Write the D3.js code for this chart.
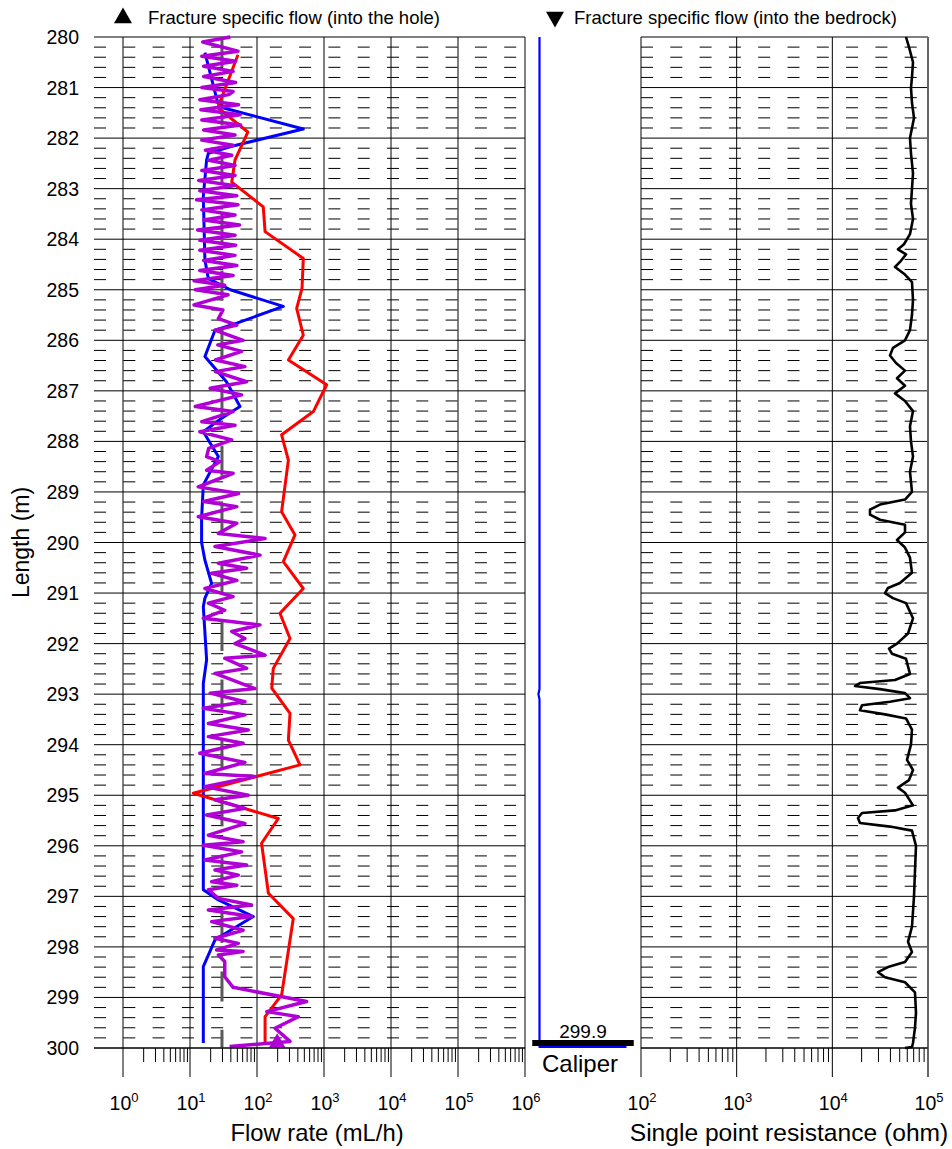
<!DOCTYPE html>
<html><head><meta charset="utf-8">
<script src="https://cdn.jsdelivr.net/npm/d3@7"></script>
<style>body{margin:0;background:#fff}svg{display:block}text{font-family:Arial,"Liberation Sans",sans-serif;fill:#000}</style>
</head><body><svg id="c" width="952" height="1149"></svg>
<script>
// ---------- data ----------
const depthTicks = [280,281,282,283,284,285,286,287,288,289,290,291,292,293,294,295,296,297,298,299,300];
const flowTickExp = [0,1,2,3,4,5,6];
const resTickExp = [2,3,4,5];
const lowerLimit = 30; // mL/h
const bottomDepth = 299.9;

const blueDepth = [280.31,281.30,281.41,281.82,282.17,282.30,282.43,283.16,284.41,284.78,285.0,285.33,285.66,285.80,286.32,286.82,287.31,287.54,287.81,288.30,288.86,289.52,290.00,290.35,290.81,291.10,291.27,292.32,292.79,295.03,296.87,297.07,297.40,297.86,298.39,299.90];
const blueFlow  = [16.7,25.9,33,491,39.5,18.8,17.7,15.8,16.7,18.8,40,247,50,23.6,16.7,35,55.7,29.7,15.8,26.5,15.8,14.9,14.9,16.7,21,16.7,15.8,17.7,15.8,15.8,15.8,26.5,88,23.6,15.8,15.8];

const redDepth = [280.35,281.40,281.88,282.43,282.87,283.36,283.85,284.38,284.97,285.37,285.90,286.39,286.88,287.41,287.87,288.37,289.39,289.85,290.38,290.91,291.40,291.90,292.49,292.88,293.38,293.91,294.40,294.96,295.46,295.95,296.94,297.44,298.95,299.38,299.91];
const redFlow  = [52,26,73,47,42,124,132,491,470,391,491,294,1096,693,233,294,233,369,247,491,220,311,175,166,311,294,438,11.2,208,117,148,348,233,132,132];

const purpleDepth = [280.00,280.10,280.28,280.38,280.48,280.58,280.68,280.78,280.90,281.00,281.08,281.14,281.24,281.34,281.44,281.54,281.64,281.74,281.84,281.94,282.04,282.14,282.24,282.34,282.44,282.54,282.64,282.74,282.84,282.94,283.04,283.14,283.22,283.32,283.42,283.52,283.62,283.72,283.82,283.92,284.02,284.12,284.22,284.32,284.42,284.52,284.62,284.72,284.82,284.91,
285.0,285.1,285.3,285.4,285.57,285.70,285.80,286.0,286.09,286.22,286.39,286.52,286.62,286.82,286.95,287.08,287.31,287.41,287.61,287.68,287.81,287.97,288.14,288.30,288.40,288.57,288.63,288.90,289.03,289.19,289.29,289.49,289.62,289.82,289.92,
290.08,290.25,290.41,290.51,290.61,290.75,290.91,291.07,291.20,291.34,291.50,291.63,291.76,291.90,292.00,292.23,292.29,292.49,292.59,292.89,292.98,293.15,293.28,293.41,293.58,293.71,293.84,293.97,294.17,294.35,294.57,294.63,294.83,295.0,
295.09,295.26,295.39,295.56,295.79,295.92,295.99,296.12,296.28,296.38,296.48,296.58,296.71,296.78,296.87,297.04,297.17,297.27,297.40,297.50,297.67,297.83,297.93,298.06,298.09,298.16,298.29,298.59,298.80,299.08,299.28,299.38,299.61,299.87,299.97];
const purpleFlow = [40,15.5,52,15,48,16,44,16,48,15,44,38,14,53,14.5,56,15,57,16,47,15,44,17,42,19,47,15,47,13.5,47,14,50,12.5,52,15,47,16,55,13,47,14,48,14,47,16,50,14,44,11.5,33,
12,37,11.5,31,26.5,50,23.6,62,26,59,24,66,24,70,20,59,12,44,15,47,14,42,19,17.7,28,17.7,44,13.3,53,16,50,13.3,50,26.5,132,
23.6,111,26.5,70,21,50,16.7,44,18.8,33,15.8,111,42,66,47,132,33,70,23.6,93,20,66,15.8,66,18.8,74,18.8,62,14,66,16.7,93,16.7,74,
23.6,66,17.7,66,18.8,62,15.8,59,16.7,70,23.6,52.6,21,50,18.8,26.5,83,18.8,83,21,62,23.6,52.6,25,62,26.5,33,33,44,551,140,414,186,311,39];
const markerDepth = [299.9];
const markerFlow = [200];

const caliperDepth = [280.0,292.9,293.0,293.1,299.98,299.98];
const caliperMM = [76,76,75.85,76,76,88];
const caliperBar = [75,89];

const resDepth = [280.0,280.2,280.5,280.8,281.0,281.3,281.6,282.0,282.3,282.7,283.0,283.3,283.6,283.9,284.1,284.2,284.3,284.45,284.55,284.7,284.85,285.2,285.5,285.8,286.0,286.15,286.3,286.45,286.6,286.75,286.9,287.05,287.2,287.4,287.7,288.0,288.3,288.6,289.0,289.15,289.25,289.35,289.45,289.55,289.65,289.8,289.95,290.1,290.3,290.6,290.8,290.9,291.0,291.1,291.2,291.5,291.8,292.0,292.1,292.2,292.3,292.6,292.72,292.78,292.84,292.9,292.98,293.08,293.15,293.22,293.32,293.4,293.48,293.7,294.0,294.3,294.5,294.7,294.85,294.95,295.2,295.3,295.35,295.45,295.55,295.62,295.7,296.0,296.5,297.0,297.3,297.6,297.9,298.1,298.3,298.4,298.5,298.6,298.7,298.9,299.3,299.6,299.9,299.98,300.0];
const resOhm = [58900,63300,69700,68000,66400,68000,71400,64800,66400,69700,68000,66400,69700,64800,56100,48570,58900,50950,45190,57500,68000,69700,68000,64800,57500,43050,40060,46300,57500,47420,57500,45190,57500,69700,64800,66400,69700,64800,68000,57500,31500,24750,24750,31500,57500,57500,47420,57500,64800,68000,50950,38170,35510,43050,58900,69700,61800,47420,39100,42040,58900,64800,45190,19450,17260,31500,57500,64800,40060,20420,19450,35510,58900,68000,66400,60300,69700,63300,48570,57500,69700,45190,20420,18550,19450,40060,68000,74900,73100,71400,69700,68000,61800,68000,57500,38170,30020,35510,57500,73100,74900,73100,69700,68000,57500];

// ---------- layout ----------
const svg = d3.select("#c");
const y = d3.scaleLinear().domain([280,300]).range([37,1048]);
const xF = d3.scaleLog().domain([1,1e6]).range([123,525]);
const xR = d3.scaleLog().domain([1e2,1e5]).range([641,928]);
const xC = d3.scaleLinear().domain([74,90]).range([525,641]);
const fL = 94, fR = 525, rL = 641, rR = 928;
const yTop = y(280), yBot = y(300);

const g = svg.append("g");

// minor dashed rows
const minorRows = [];
depthTicks.slice(0,-1).forEach(d=>{[0.2,0.4,0.6,0.8].forEach(f=>minorRows.push(d+f));});
[[fL,fR],[rL,rR]].forEach(([a,b])=>{
  g.selectAll(null).data(minorRows).join("line")
    .attr("x1",a).attr("x2",b).attr("y1",d=>y(d)).attr("y2",d=>y(d))
    .attr("stroke","#000").attr("stroke-width",1).attr("stroke-dasharray","12,17.3");
});
// major rows
[[fL,fR],[rL,rR]].forEach(([a,b])=>{
  g.selectAll(null).data(depthTicks).join("line")
    .attr("x1",a).attr("x2",b).attr("y1",d=>y(d)).attr("y2",d=>y(d))
    .attr("stroke","#000").attr("stroke-width",1);
});
// vertical decade lines (extend below to tick length)
g.selectAll(null).data(flowTickExp).join("line")
  .attr("x1",d=>xF(10**d)).attr("x2",d=>xF(10**d)).attr("y1",yTop).attr("y2",yBot+29)
  .attr("stroke","#000").attr("stroke-width",1);
g.selectAll(null).data(resTickExp).join("line")
  .attr("x1",d=>xR(10**d)).attr("x2",d=>xR(10**d)).attr("y1",yTop).attr("y2",yBot+29)
  .attr("stroke",d=>d===5?"#666":"#000").attr("stroke-width",d=>d===5?2:1);

// minor ticks
function minors(exps){const m=[];for(let i=0;i<exps.length-1;i++)for(let k=2;k<10;k++)m.push(k*10**exps[i]);return m;}
g.append("g").attr("transform",`translate(0,${yBot})`)
  .call(d3.axisBottom(xF).tickValues(minors(flowTickExp)).tickSize(14).tickFormat(""))
  .call(s=>s.select(".domain").remove());
g.append("g").attr("transform",`translate(0,${yBot})`)
  .call(d3.axisBottom(xR).tickValues(minors(resTickExp)).tickSize(14).tickFormat(""))
  .call(s=>s.select(".domain").remove());

// tick labels
function expLabels(scale,exps){
  const t = g.selectAll(null).data(exps).join("text")
    .attr("x",d=>scale(10**d)+1).attr("y",1110).attr("text-anchor","middle").style("font-size","19.5px");
  t.append("tspan").text("10");
  t.append("tspan").attr("dy",-8.5).style("font-size","13px").text(d=>d);
}
expLabels(xF,flowTickExp);
expLabels(xR,resTickExp);

// y labels
g.selectAll(null).data(depthTicks).join("text")
  .attr("x",79).attr("y",d=>y(d)).attr("dy","0.36em").attr("text-anchor","end")
  .style("font-size","19.5px").text(d=>d);

// titles
g.append("text").attr("x",317).attr("y",1141).attr("text-anchor","middle").style("font-size","23.8px").text("Flow rate (mL/h)");
g.append("text").attr("x",789).attr("y",1141).attr("text-anchor","middle").style("font-size","24.6px").text("Single point resistance (ohm)");
g.append("text").attr("transform",`translate(29,${(yTop+yBot)/2}) rotate(-90)`).attr("text-anchor","middle").style("font-size","23px").text("Length (m)");
g.append("text").attr("x",580).attr("y",1072).attr("text-anchor","middle").style("font-size","24px").text("Caliper");

// legend
g.append("path").attr("d",d3.symbol(d3.symbolTriangle,140)()).attr("transform","translate(123,18)").attr("fill","#000");
g.append("text").attr("x",148).attr("y",24).style("font-size","18.5px").text("Fracture specific flow (into the hole)");
g.append("path").attr("d",d3.symbol(d3.symbolTriangle,140)()).attr("transform","translate(555,17) rotate(180)").attr("fill","#000");
g.append("text").attr("x",574).attr("y",24).style("font-size","18.5px").text("Fracture specific flow (into the bedrock)");

// lower limit dashed
g.append("line").attr("x1",xF(lowerLimit)).attr("x2",xF(lowerLimit)).attr("y1",yTop).attr("y2",yBot)
  .attr("stroke","#5a5a5a").attr("stroke-width",3).attr("stroke-dasharray","30,28.4");

// series
function series(depths,vals,scale,color,w){
  const data = depths.map((d,i)=>[d,vals[i]]);
  g.append("path").datum(data)
    .attr("d",d3.line().x(d=>scale(d[1])).y(d=>y(d[0])))
    .attr("fill","none").attr("stroke",color).attr("stroke-width",w).attr("stroke-linejoin","round");
}
series(blueDepth,blueFlow,xF,"#0000ff",3);
series(redDepth,redFlow,xF,"#ff0000",3);
series(purpleDepth,purpleFlow,xF,"#b000d6",3.5);
// marker
g.selectAll(null).data(markerDepth).join("path")
  .attr("d",d3.symbol(d3.symbolTriangle,120)())
  .attr("transform",(d,i)=>`translate(${xF(markerFlow[i])},${y(d)})`).attr("fill","#b000d6");

// caliper
series(caliperDepth,caliperMM,xC,"#0000ff",2.2);
g.append("line").attr("x1",xC(caliperBar[0])).attr("x2",xC(caliperBar[1])).attr("y1",y(bottomDepth)).attr("y2",y(bottomDepth))
  .attr("stroke","#000").attr("stroke-width",6);
g.append("text").attr("x",583).attr("y",y(bottomDepth)-5).attr("text-anchor","middle").style("font-size","19px").text(bottomDepth);

// resistance
series(resDepth,resOhm,xR,"#000",2.6);

// bottom axis lines
[[fL,fR],[rL,rR]].forEach(([a,b])=>{
  g.append("line").attr("x1",a).attr("x2",b).attr("y1",yBot).attr("y2",yBot).attr("stroke","#000");
});
</script></body></html>
